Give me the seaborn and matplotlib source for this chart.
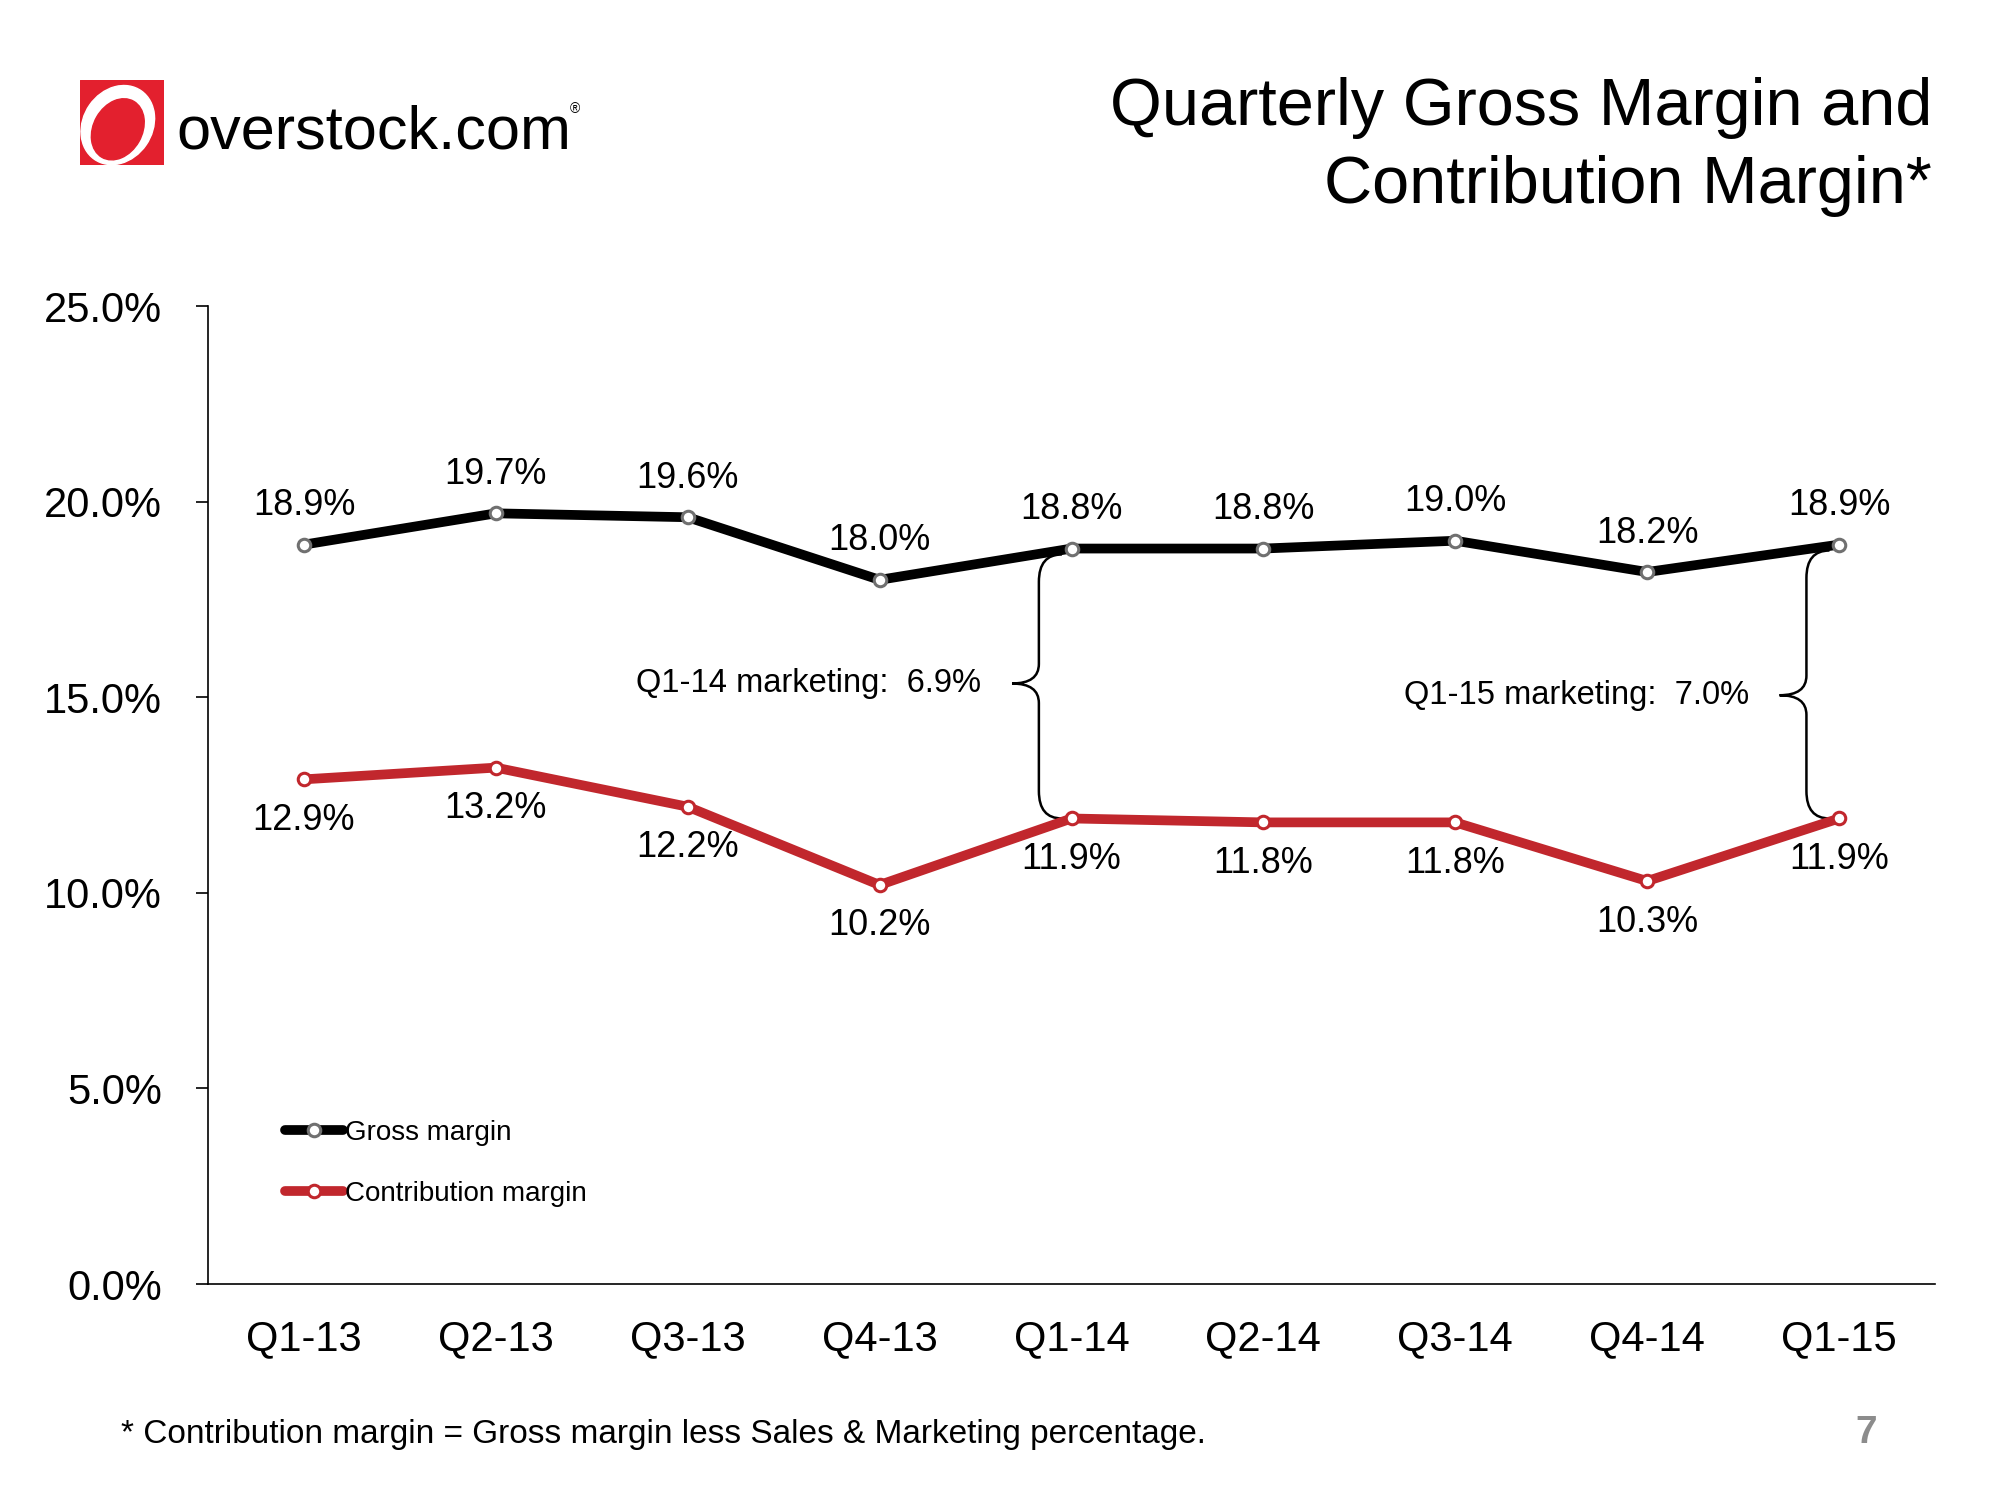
import numpy as np
import pandas as pd
import matplotlib
matplotlib.use("Agg")
import matplotlib.pyplot as plt
import seaborn as sns
from matplotlib.path import Path
from matplotlib.patches import PathPatch, Rectangle, Ellipse
from matplotlib.ticker import FuncFormatter

# data
quarters = ["Q1-13", "Q2-13", "Q3-13", "Q4-13", "Q1-14", "Q2-14", "Q3-14", "Q4-14", "Q1-15"]
gross_margin = [18.9, 19.7, 19.6, 18.0, 18.8, 18.8, 19.0, 18.2, 18.9]
contribution_margin = [12.9, 13.2, 12.2, 10.2, 11.9, 11.8, 11.8, 10.3, 11.9]
y_ticks = [0, 5, 10, 15, 20, 25]
brace_quarters = ["Q1-14", "Q1-15"]
brace_labels = ["Q1-14 marketing:  6.9%", "Q1-15 marketing:  7.0%"]

BLACK = "#000000"
RED = "#C1272D"
LOGO_RED = "#E3202E"

sns.set_style("white")
plt.rcParams["font.family"] = ["Liberation Sans", "DejaVu Sans"]
for k in ["text.color", "axes.labelcolor", "xtick.color", "ytick.color"]:
    plt.rcParams[k] = BLACK

df = pd.DataFrame({
    "pos": np.arange(len(quarters)),
    "quarter": quarters,
    "gross": gross_margin,
    "contrib": contribution_margin,
})

fig = plt.figure(figsize=(20, 15), dpi=100)
ax = fig.add_axes([0.104, 0.144, 0.8635, 0.652])

sns.lineplot(data=df, x="pos", y="gross", ax=ax, color=BLACK, lw=7,
             marker="o", markersize=9, markerfacecolor="white",
             markeredgecolor="#707070", markeredgewidth=2.2,
             label="Gross margin", legend=False)
sns.lineplot(data=df, x="pos", y="contrib", ax=ax, color=RED, lw=7,
             marker="o", markersize=9, markerfacecolor="white",
             markeredgecolor=RED, markeredgewidth=2.2,
             label="Contribution margin", legend=False)

# value labels
for i, v in enumerate(gross_margin):
    ax.annotate(f"{v:.1f}%", (i, v), xytext=(0, 28), textcoords="offset points",
                ha="center", va="center", fontsize=26)
for i, v in enumerate(contribution_margin):
    ax.annotate(f"{v:.1f}%", (i, v), xytext=(0, -29.5), textcoords="offset points",
                ha="center", va="center", fontsize=26)

# curly braces showing the marketing gap
brace_tip_y = [15.35, 15.05]
for q, lab, tip in zip(brace_quarters, brace_labels, brace_tip_y):
    xi = quarters.index(q)
    y_top = gross_margin[xi] - 0.15
    y_bot = contribution_margin[xi]
    xv, xt, xe = xi - 0.17, xi - 0.31, xi - 0.05
    ry, rt = 0.7, 0.5
    verts = [(xe, y_top), (xv, y_top), (xv, y_top - ry),
             (xv, tip + rt), (xv, tip), (xt, tip),
             (xv, tip), (xv, tip - rt),
             (xv, y_bot + ry), (xv, y_bot), (xe, y_bot)]
    codes = [Path.MOVETO, Path.CURVE3, Path.CURVE3,
             Path.LINETO, Path.CURVE3, Path.CURVE3,
             Path.CURVE3, Path.CURVE3,
             Path.LINETO, Path.CURVE3, Path.CURVE3]
    ax.add_patch(PathPatch(Path(verts, codes), fill=False, lw=1.8, ec=BLACK, zorder=1))
    ax.annotate(lab, (xt, tip), xytext=(-22, 0), textcoords="offset points",
                ha="right", va="center", fontsize=23.5)

# axes styling
ax.set_xlim(-0.5, len(quarters) - 0.5)
ax.set_ylim(0, 25)
ax.set_xticks(range(len(quarters)))
ax.set_xticklabels(quarters)
ax.set_xticks(np.arange(-0.5, len(quarters), 1), minor=True)
ax.set_yticks(y_ticks)
ax.yaxis.set_major_formatter(FuncFormatter(lambda v, p: f"{v:.1f}%"))
ax.tick_params(axis="x", which="major", length=0, pad=25, labelsize=30)
ax.tick_params(axis="x", which="minor", length=9, width=1.2, direction="out", color=BLACK)
ax.tick_params(axis="y", length=9, width=1.2, pad=24, labelsize=30, direction="out", color=BLACK, left=True)
ax.set_xlabel("")
ax.set_ylabel("")
sns.despine(ax=ax)
for s in ["left", "bottom"]:
    ax.spines[s].set_color(BLACK)
    ax.spines[s].set_linewidth(1.2)

ax.legend(loc="center left", bbox_to_anchor=(0.1425, 0.2243), bbox_transform=fig.transFigure,
          frameon=False, fontsize=20, handlelength=2.1, handletextpad=0.05,
          labelspacing=1.25, borderpad=0, borderaxespad=0)

# title
fig.text(0.966, 0.9167, "Quarterly Gross Margin and", ha="right", va="baseline", fontsize=48)
fig.text(0.966, 0.8647, "Contribution Margin*", ha="right", va="baseline", fontsize=48)

# footnote and page number
fig.text(0.0605, 0.038, "* Contribution margin = Gross margin less Sales & Marketing percentage.",
         ha="left", va="baseline", fontsize=24)
fig.text(0.933, 0.038, "7", ha="center", va="baseline", fontsize=28, fontweight="bold", color="#8C8C8C")

# logo
lax = fig.add_axes([80 / 2000, 1 - 165 / 1500, 84 / 2000, 85 / 1500])
lax.set_xlim(0, 1)
lax.set_ylim(0, 1)
lax.axis("off")
lax.add_patch(Rectangle((0, 0), 1, 1, color=LOGO_RED))
lax.add_patch(Ellipse((0.45, 0.47), 0.82, 0.98, angle=-35, color="white"))
lax.add_patch(Ellipse((0.45, 0.42), 0.58, 0.76, angle=-30, color=LOGO_RED))
fig.text(0.088, 0.9013, "overstock.com", ha="left", va="baseline", fontsize=44)
fig.text(0.2875, 0.927, "\u00ae", ha="center", va="center", fontsize=10)

fig.savefig("out.png", dpi=100)
